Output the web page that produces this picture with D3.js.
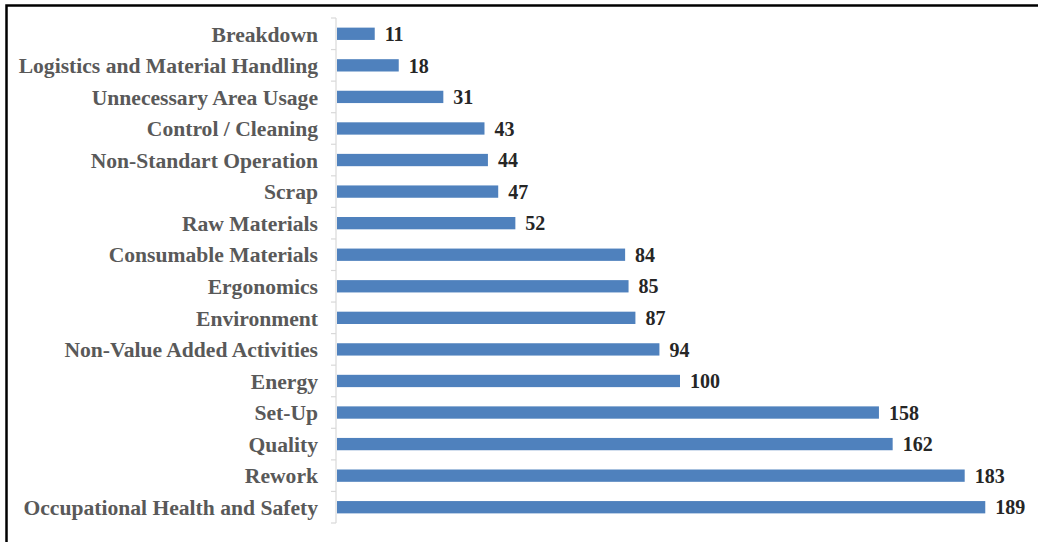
<!DOCTYPE html>
<html>
<head>
<meta charset="utf-8">
<script src="https://cdn.jsdelivr.net/npm/d3@7"></script>
<style>
  html, body { margin: 0; padding: 0; background: #fff; }
  svg { display: block; }
</style>
</head>
<body>
<svg id="chart" width="1038" height="542"></svg>
<script>
// Waste categories (top to bottom) and their counts
const categories = [
  "Breakdown",
  "Logistics and Material Handling",
  "Unnecessary Area Usage",
  "Control / Cleaning",
  "Non-Standart Operation",
  "Scrap",
  "Raw Materials",
  "Consumable Materials",
  "Ergonomics",
  "Environment",
  "Non-Value Added Activities",
  "Energy",
  "Set-Up",
  "Quality",
  "Rework",
  "Occupational Health and Safety"
];
const counts = [11, 18, 31, 43, 44, 47, 52, 84, 85, 87, 94, 100, 158, 162, 183, 189];
const xDomainMax = 200;

const svg = d3.select("#chart");
const W = 1038, H = 542;

// Frame: top and left edges only
svg.append("path")
  .attr("d", `M6.5,${H} V5.5 H${W}`)
  .attr("fill", "none")
  .attr("stroke", "#000")
  .attr("stroke-width", 2.5);

const x = d3.scaleLinear().domain([0, xDomainMax]).range([337, 1023]);
const y = d3.scaleBand().domain(categories).range([18, 523]).padding(0);

const barH = y.bandwidth() * 0.39;
const data = categories.map((c, i) => ({ cat: c, val: counts[i] }));

// Category axis line with ticks between categories
const axisX = 336;
const g = svg.append("g");
g.append("line")
  .attr("x1", axisX).attr("x2", axisX)
  .attr("y1", y.range()[0]).attr("y2", y.range()[1])
  .attr("stroke", "#d9d9d9").attr("stroke-width", 1.2);
const boundaries = categories.map(c => y(c)).concat([y.range()[1]]);
g.selectAll("line.tick").data(boundaries).enter().append("line")
  .attr("class", "tick")
  .attr("x1", axisX - 5).attr("x2", axisX)
  .attr("y1", d => d).attr("y2", d => d)
  .attr("stroke", "#d9d9d9").attr("stroke-width", 1.2);

// Bars
svg.append("g").selectAll("rect").data(data).enter().append("rect")
  .attr("x", x(0))
  .attr("y", d => y(d.cat) + y.bandwidth() / 2 - barH / 2)
  .attr("width", d => x(d.val) - x(0))
  .attr("height", barH)
  .attr("fill", "#4f81bd");

// Category labels
svg.append("g").selectAll("text").data(data).enter().append("text")
  .attr("x", 318)
  .attr("y", d => y(d.cat) + y.bandwidth() / 2)
  .attr("dy", "0.36em")
  .attr("text-anchor", "end")
  .attr("font-family", "'Liberation Serif', 'Times New Roman', serif")
  .attr("font-weight", "bold")
  .attr("font-size", 21.6)
  .attr("fill", "#595959")
  .text(d => d.cat);

// Value labels
svg.append("g").selectAll("text").data(data).enter().append("text")
  .attr("x", d => x(d.val) + 10)
  .attr("y", d => y(d.cat) + y.bandwidth() / 2)
  .attr("dy", "0.36em")
  .attr("font-family", "'Liberation Serif', 'Times New Roman', serif")
  .attr("font-weight", "bold")
  .attr("font-size", 20)
  .attr("fill", "#262626")
  .text(d => d.val);
</script>
</body>
</html>
